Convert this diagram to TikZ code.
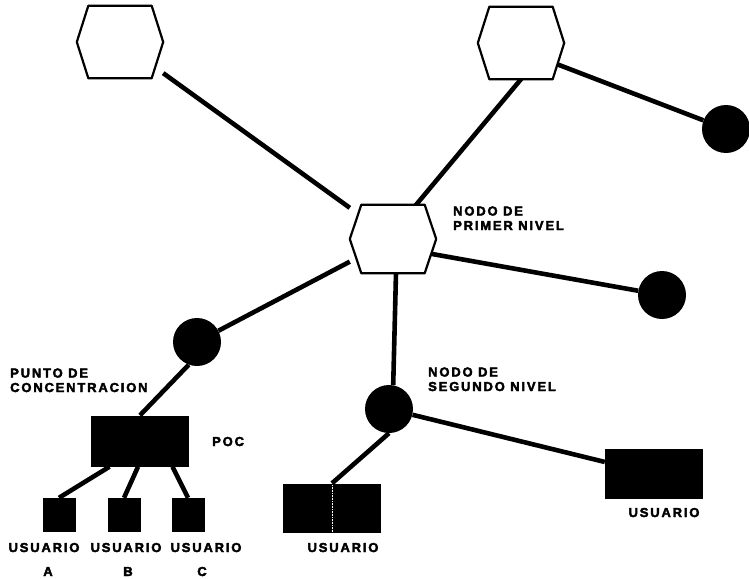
\documentclass[tikz,border=0pt]{standalone}
\usepackage{fontspec}
\usetikzlibrary{calc}
\newfontfamily\lblfont[LetterSpace=14,FakeBold=3]{Liberation Sans Bold}
\tikzset{
  hexa/.style={rectangle, inner sep=0pt, minimum width=86pt, minimum height=72pt},
  hexline/.style={draw=black, line width=2.2pt, fill=white, line join=round},
  dot/.style={circle, fill=black, inner sep=0pt, minimum size=48pt},
  term/.style={rectangle, fill=black, inner sep=0pt, minimum width=98pt,
    minimum height=50pt},
  small/.style={term, minimum width=33pt, minimum height=34pt},
  link/.style={line width=4.6pt, draw=black},
  lbl/.style={font=\lblfont\fontsize{13}{14.5}\selectfont,
    align=left, inner sep=0pt},
}
% hexagon outline over the (invisible) box of a hexa node
\newcommand{\hexborder}[1]{%
  \draw[hexline] ($(#1.north west)+(11.5pt,0pt)$) -- ($(#1.north east)+(-11.5pt,0pt)$)
    -- (#1.east) -- ($(#1.south east)+(-11.5pt,0pt)$)
    -- ($(#1.south west)+(11.5pt,0pt)$) -- (#1.west) -- cycle;}

\begin{document}
\begin{tikzpicture}[x=1pt,y=-1pt]
\useasboundingbox (0,0) rectangle (749,578);
% first level nodes
\node[hexa] (top1) at (120,42) {};
\node[hexa] (top2) at (521,43) {};
\node[hexa, minimum height=68pt] (first) at (393,239) {};
% second level and concentration points
\node[dot] (far) at (726,129) {};
\node[dot] (east) at (662,295) {};
\node[dot] (conc) at (197,342) {};
\node[dot] (second) at (389,409) {};
% terminals
\node[term, minimum height=51pt] (poc) at (140,441) {};
\node[small] (usrA) at (59,515) {};
\node[small] (usrB) at (124,515) {};
\node[small] (usrC) at (188,515) {};
\node[term, minimum height=49pt] (usr2) at (332,508) {};
\node[term] (usr3) at (654,474) {};
\draw[white, line width=0.6pt, densely dotted] (usr2.north) -- (usr2.south);
% links (hexagon ends run under the outlines)
\draw[link] (top1) -- (first);
\draw[link, shorten <=-8pt, shorten >=-8pt] (top2.south) -- (first.56);
\draw[link, shorten <=-12pt] (top2.-29) -- (far);
\draw[link, shorten <=-10pt] (first.-20) -- (east);
\draw[link] (first) -- (conc);
\draw[link, shorten <=-8pt] (first.-85) -- (second.80);
\draw[link] (second) -- (usr3);
\draw[link] (second.south) -- (usr2.north);
\draw[link] (conc.-110) -- (poc.north);
\draw[link] ($(poc.south west)!0.19!(poc.south east)$) -- (usrA.north);
\draw[link] ($(poc.south west)!0.48!(poc.south east)$) -- (usrB.north);
\draw[link] ($(poc.south west)!0.83!(poc.south east)$) -- (usrC.north);
\hexborder{top1}
\hexborder{top2}
\hexborder{first}
% labels
\node[lbl, anchor=base west] (lprimer) at (453,230) {NODO DE\\PRIMER NIVEL};
\node[lbl, anchor=base west] (lsegundo) at (428,391) {NODO DE\\SEGUNDO NIVEL};
\node[lbl, anchor=base west] (lpunto) at (10,392) {PUNTO DE\\CONCENTRACION};
\node[lbl, anchor=base west] (lpoc) at (212,446) {POC};
\node[lbl, anchor=base] (lusrA) at (44,552) {USUARIO};
\node[lbl, anchor=base] (lusrB) at (126,552) {USUARIO};
\node[lbl, anchor=base] (lusrC) at (206,552) {USUARIO};
\node[lbl, anchor=base] (lA) at (48,576) {A};
\node[lbl, anchor=base] (lB) at (128,576) {B};
\node[lbl, anchor=base] (lC) at (202,576) {C};
\node[lbl, anchor=base] (lusr2) at (343,552) {USUARIO};
\node[lbl, anchor=base] (lusr3) at (664,517) {USUARIO};
\end{tikzpicture}
\end{document}
